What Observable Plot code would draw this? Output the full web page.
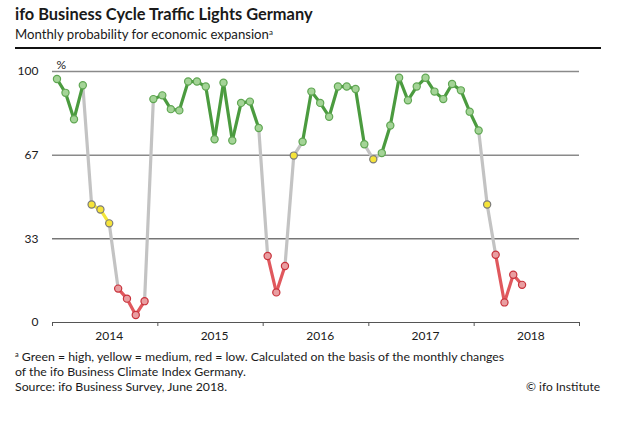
<!DOCTYPE html>
<html><head><meta charset="utf-8">
<script src="https://cdn.jsdelivr.net/npm/d3@7"></script>
<script src="https://cdn.jsdelivr.net/npm/@observablehq/plot@0.6"></script>
<style>
body{margin:0;background:#fff;font-family:Lato,sans-serif;color:#1a1a1a}
#wrap{position:relative;width:640px;height:421px;overflow:hidden;background:#fff}
.t{position:absolute;white-space:nowrap;line-height:1.2}
.f{position:absolute;white-space:nowrap;line-height:1;font-size:12.3px}
#chart{position:absolute;left:0;top:50px}
sup{font-size:0.6em;vertical-align:0.55em;line-height:0}
</style></head><body><div id="wrap">
<div class="t" style="left:15px;top:4.4px;font-size:16.4px;font-weight:700">ifo Business Cycle Traffic Lights Germany</div>
<div class="t" style="left:15px;top:27.2px;font-size:13.2px">Monthly probability for economic expansion<sup>a</sup></div>
<div style="position:absolute;left:15px;top:46.7px;width:586px;height:2px;background:#111"></div>
<div id="chart"></div>
<div class="f" style="left:15px;top:350.8px"><sup>a</sup> Green = high, yellow = medium, red = low. Calculated on the basis of the monthly changes</div>
<div class="f" style="left:15px;top:365.6px">of the ifo Business Climate Index Germany.</div>
<div class="f" style="left:15px;top:380.6px">Source: ifo Business Survey, June 2018.</div>
<div class="f" style="right:40px;top:380.6px;font-size:12px">© ifo Institute</div>
</div>
<script>
// Monthly data, January 2014 – June 2018
const startYear = 2014;
const values = [
  97, 91.5, 81, 94.5, 47, 45, 39.5, 13.5, 9.5, 3, 8.5, 89,
  90.5, 85, 84.5, 96, 96, 94, 73, 95.5, 72.5, 87.5, 88, 77.5,
  26.5, 12, 22.5, 66.5, 72, 92, 87.5, 82, 94, 94, 93, 71,
  65, 67.5, 78.5, 97.5, 88.5, 94, 97.5, 92, 89, 95, 92.5, 84,
  76.5, 47, 27, 8, 19, 15
];
const levels = [
  "g","g","g","g","y","y","y","r","r","r","r","g",
  "g","g","g","g","g","g","g","g","g","g","g","g",
  "r","r","r","y","g","g","g","g","g","g","g","g",
  "y","g","g","g","g","g","g","g","g","g","g","g",
  "g","y","r","r","r","r"
];
const yearTicks = [2014, 2015, 2016, 2017, 2018, 2019];
const yearLabels = [2014, 2015, 2016, 2017, 2018];
const yTicks = [0, 100/3, 200/3, 100];

const lineColor = {g: "#4b9b3f", y: "#f2e53a", r: "#e0585d"};
const fillColor = {g: "#a4d497", y: "#f6e43a", r: "#e99ea1"};
const strokeColor = {g: "#5fa652", y: "#7a7a7a", r: "#c8323b"};
const grey = "#c3c3c3";

const rows = values.map((v, i) => {
  const y = startYear + Math.floor(i / 12), m = i % 12;
  const a = Date.UTC(y, m, 1), b = Date.UTC(y, m + 1, 1);
  return {date: new Date((a + b) / 2), value: v, level: levels[i]};
});
const segs = [];
for (let i = 1; i < rows.length; i++) {
  const p = rows[i - 1], q = rows[i];
  segs.push({x1: p.date, y1: p.value, x2: q.date, y2: q.value,
    color: p.level === q.level ? lineColor[p.level] : grey, same: p.level === q.level});
}
const tickDates = yearTicks.map(y => new Date(Date.UTC(y, 0, 1)));
const labelDates = yearLabels.map(y => new Date((Date.UTC(y, 6, 1) + Date.UTC(y, 7, 1)) / 2));

const chart = Plot.plot({
  width: 640, height: 300,
  marginTop: 21, marginBottom: 28, marginLeft: 52, marginRight: 61,
  style: {fontFamily: "Lato, sans-serif", fontSize: "12px", color: "#1a1a1a", background: "transparent"},
  x: {type: "utc", domain: [tickDates[0], tickDates[tickDates.length - 1]]},
  y: {domain: [0, 100]},
  marks: [
    Plot.ruleY(yTicks.slice(2), {stroke: "#8a8a8a", strokeWidth: 1.5}),
    Plot.ruleY([yTicks[1]], {stroke: "#333", strokeWidth: 1}),
    Plot.ruleY([0], {stroke: "#555", strokeWidth: 1}),
    Plot.axisY(yTicks, {tickSize: 0, tickPadding: 14, tickFormat: d => String(Math.round(d)), fontSize: 12, label: null}),
    Plot.text(["%"], {frameAnchor: "top-left", dx: 4, dy: -11, textAnchor: "start", fontSize: 12}),
    Plot.axisX(tickDates, {tickSize: 4, tickFormat: () => "", stroke: "#555", label: null}),
    Plot.axisX(labelDates, {tickSize: 0, tickPadding: 9, tickFormat: d => String(d.getUTCFullYear()), fontSize: 12, label: null}),
    Plot.link(segs.filter(d => !d.same), {x1: "x1", y1: "y1", x2: "x2", y2: "y2", stroke: "color", strokeWidth: 3.2, strokeLinecap: "round"}),
    Plot.link(segs.filter(d => d.same), {x1: "x1", y1: "y1", x2: "x2", y2: "y2", stroke: "color", strokeWidth: 3.2, strokeLinecap: "round"}),
    Plot.dot(rows, {x: "date", y: "value", r: 3.6, fill: d => fillColor[d.level], stroke: d => strokeColor[d.level], strokeWidth: 1.2})
  ]
});
document.getElementById("chart").appendChild(chart);
</script>
</body></html>
